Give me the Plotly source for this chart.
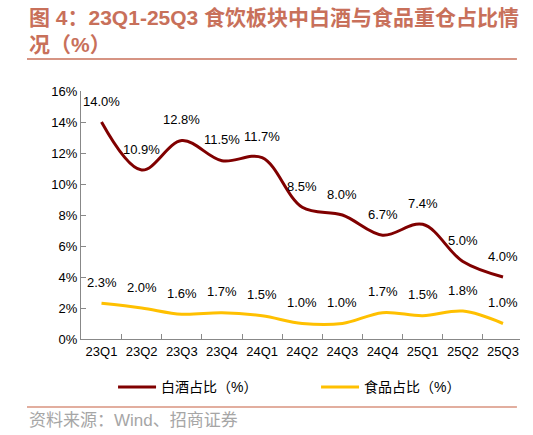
import plotly.graph_objects as go

quarters = ["23Q1", "23Q2", "23Q3", "23Q4", "24Q1", "24Q2",
            "24Q3", "24Q4", "25Q1", "25Q2", "25Q3"]
baijiu = [14.0, 10.9, 12.8, 11.5, 11.7, 8.5, 8.0, 6.7, 7.4, 5.0, 4.0]
food = [2.3, 2.0, 1.6, 1.7, 1.5, 1.0, 1.0, 1.7, 1.5, 1.8, 1.0]

FONT = "Liberation Sans, Arial, Noto Sans CJK SC"
TITLE_COLOR = "#C8705A"

fig = go.Figure()
fig.add_trace(go.Scatter(
    x=quarters, y=baijiu, name="白酒占比（%）", mode="lines",
    line=dict(color="#800000", width=3, shape="spline"),
))
fig.add_trace(go.Scatter(
    x=quarters, y=food, name="食品占比（%）", mode="lines",
    line=dict(color="#FFC000", width=3, shape="spline"),
))

# 数据标签
for series in (baijiu, food):
    for q, v in zip(quarters, series):
        fig.add_annotation(x=q, y=v, text=f"{v:.1f}%", showarrow=False,
                           yshift=21, font=dict(size=13, color="#000000"))

# 标题
fig.add_annotation(xref="paper", yref="paper", x=-0.123, y=1.35,
                   xanchor="left", yanchor="top", align="left", showarrow=False,
                   text="<b>图 4：23Q1-25Q3 食饮板块中白酒与食品重仓占比情<br>况（%）</b>",
                   font=dict(size=21, color=TITLE_COLOR, family=FONT))

fig.add_annotation(xref="paper", yref="paper", x=-0.123, y=-0.327,
                   xanchor="left", yanchor="middle", showarrow=False,
                   text="资料来源：Wind、招商证券",
                   font=dict(size=17, color="#A6A6A6"))

fig.add_shape(type="line", xref="paper", yref="paper",
              x0=-0.123, x1=0.993, y0=1.129, y1=1.129,
              line=dict(color=TITLE_COLOR, width=1.5))
fig.add_shape(type="line", xref="paper", yref="paper",
              x0=-0.123, x1=0.993, y0=-0.274, y1=-0.274,
              line=dict(color="#D9937F", width=1.5))

fig.update_layout(
    width=533, height=435,
    margin=dict(t=91, l=81, r=13, b=96),
    plot_bgcolor="white", paper_bgcolor="white",
    font=dict(family=FONT, size=13, color="#000000"),
    showlegend=True,
    legend=dict(orientation="h", x=0.073, xanchor="left", y=-0.195, yanchor="middle",
                itemwidth=38, entrywidth=150, bgcolor="rgba(0,0,0,0)",
                font=dict(size=14)),
    xaxis=dict(showline=True, linecolor="#888888", ticks="inside", ticklen=5,
               tickcolor="#888888", tickson="boundaries", showgrid=False,
               tickangle=0, automargin=False, tickfont=dict(size=13)),
    yaxis=dict(range=[0, 16], dtick=2, ticksuffix="%", showline=True,
               linecolor="#888888", ticks="inside", ticklen=5, tickcolor="#888888",
               showgrid=False, zeroline=False, automargin=False,
               tickfont=dict(size=13)),
)

fig.write_html("out.html", config={"displayModeBar": False},
               post_script="document.body.style.margin='0';")
